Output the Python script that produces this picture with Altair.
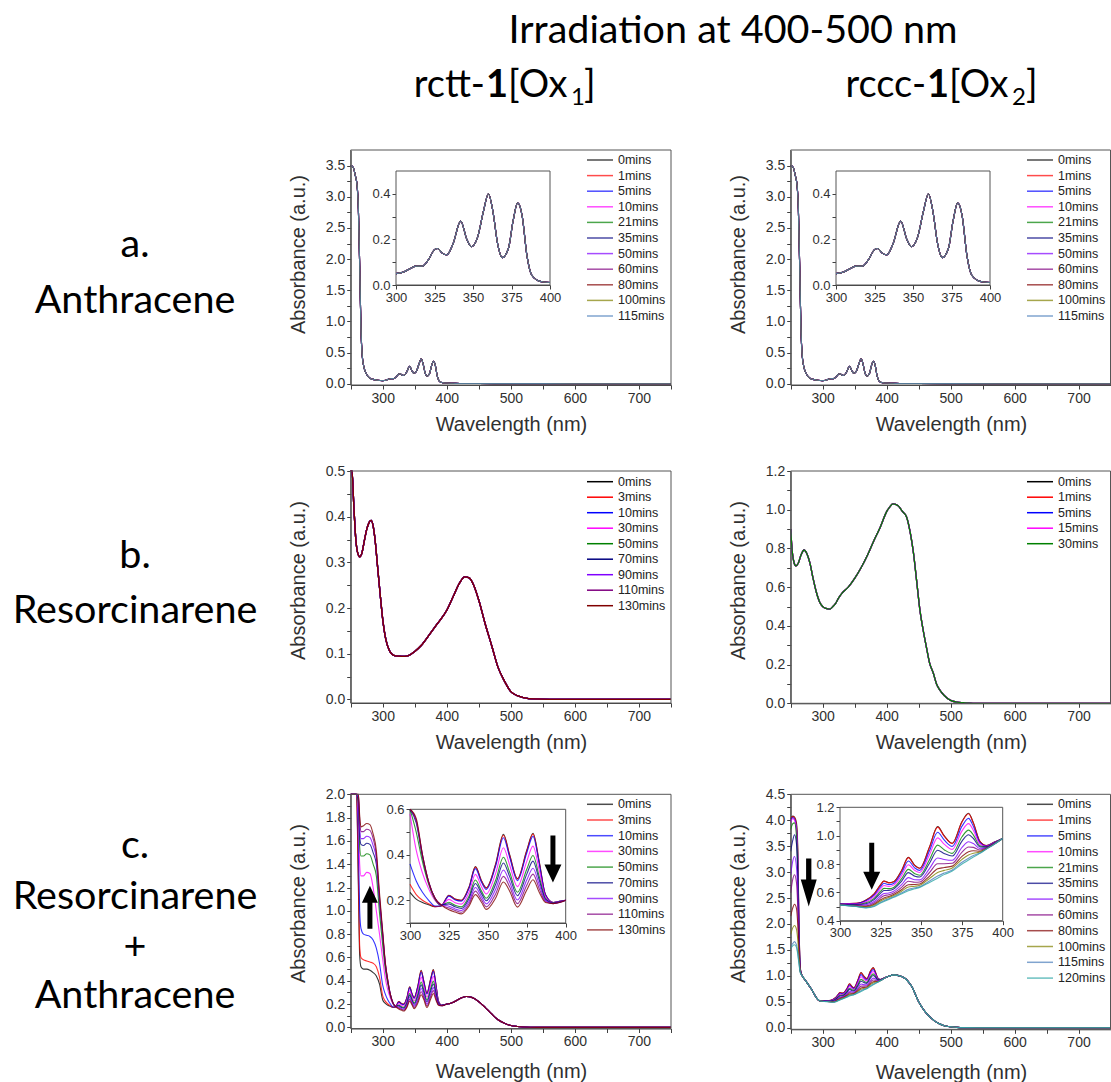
import altair as alt
import pandas as pd

W, H = 1111, 1082
AX_FONT = "Liberation Sans"
BIG_FONT = "Lato"
BIG = 39.5
HEAD = 38

BLACK, RED, BLUE, MAGENTA = "#000000", "#ff0000", "#0000ff", "#ff00ff"
GREEN, NAVY, VIOLET, PURPLE = "#008000", "#000080", "#8000ff", "#800080"
WINE, OLIVE, STEEL, TEAL = "#800000", "#808000", "#4a7ebb", "#2ca5a5"

# ---------------- data: row a (anthracene, all traces coincide) ----------------
A_WL = [250, 254, 257, 260, 262, 264, 266, 268, 271, 275, 280, 285, 292, 300, 305, 310, 313, 317, 321, 325,
        327, 330, 333, 337, 342, 346, 349, 353, 357, 360, 363, 366, 369, 373, 376, 379, 382, 385, 388, 392,
        396, 400, 410, 420, 450, 500, 600, 750]
A_ABS = [3.50, 3.47, 3.35, 3.18, 2.80, 1.90, 0.90, 0.45, 0.25, 0.15, 0.09, 0.07, 0.055, 0.05, 0.057, 0.075, 0.083, 0.083, 0.11, 0.155,
         0.16, 0.14, 0.132, 0.18, 0.28, 0.20, 0.168, 0.21, 0.33, 0.40, 0.32, 0.18, 0.12, 0.16, 0.28, 0.36, 0.30, 0.13, 0.045, 0.02,
         0.013, 0.011, 0.008, 0.005, 0.003, 0.002, 0.001, 0.0]
A_LABELS = ["0mins", "1mins", "5mins", "10mins", "21mins", "35mins", "50mins", "60mins", "80mins", "100mins", "115mins"]
A_COLORS = [BLACK, RED, BLUE, MAGENTA, GREEN, NAVY, VIOLET, PURPLE, WINE, OLIVE, STEEL]

# ---------------- row b: resorcinarene ----------------
B1_WL = [250, 252, 255, 258, 261, 264, 267, 271, 275, 279, 282, 285, 288, 292, 296, 300, 305, 310, 315, 320,
         330, 340, 350, 360, 372, 385, 400, 410, 420, 428, 435, 442, 450, 460, 470, 480, 490, 500, 510, 520,
         535, 560, 750]
B1_ABS = [0.56, 0.50, 0.42, 0.35, 0.32, 0.312, 0.318, 0.345, 0.372, 0.388, 0.392, 0.38, 0.35, 0.29, 0.23, 0.175, 0.13, 0.108, 0.098, 0.095,
          0.094, 0.096, 0.105, 0.118, 0.14, 0.165, 0.195, 0.225, 0.255, 0.268, 0.266, 0.25, 0.217, 0.165, 0.118, 0.07, 0.04, 0.017, 0.008, 0.004,
          0.001, 0.0, 0.0]
B1_LABELS = ["0mins", "3mins", "10mins", "30mins", "50mins", "70mins", "90mins", "110mins", "130mins"]
B1_COLORS = [BLACK, RED, BLUE, MAGENTA, GREEN, NAVY, VIOLET, PURPLE, WINE]

B2_WL = [250, 252, 255, 258, 262, 266, 271, 275, 280, 285, 290, 295, 300, 305, 311, 316, 320, 325, 330, 340,
         350, 360, 370, 380, 390, 400, 405, 410, 418, 425, 431, 437, 442, 447, 452, 457, 462, 467, 473, 478,
         483, 490, 500, 510, 520, 535, 750]
B2_ABS = [0.90, 0.80, 0.73, 0.71, 0.725, 0.765, 0.792, 0.775, 0.725, 0.645, 0.575, 0.525, 0.50, 0.49, 0.486, 0.50, 0.515, 0.545, 0.568, 0.60,
          0.645, 0.70, 0.765, 0.84, 0.91, 0.99, 1.015, 1.03, 1.02, 0.99, 0.964, 0.88, 0.775, 0.63, 0.482, 0.38, 0.293, 0.21, 0.155, 0.10,
          0.069, 0.04, 0.015, 0.006, 0.003, 0.0, 0.0]
B2_LABELS = ["0mins", "1mins", "5mins", "15mins", "30mins"]
B2_COLORS = [BLACK, RED, BLUE, MAGENTA, GREEN]

# ---------------- row c left: resorcinarene + anthracene (rctt) ----------------
CL_LABELS = B1_LABELS
CL_COLORS = B1_COLORS
CL_UV_WL = [250, 255, 259, 262, 264, 266, 270, 275, 280, 285, 290, 295, 300, 304, 308, 312, 316, 320]
CL_UV = {
    "0mins":   [2.6, 2.5, 2.2, 1.20, 0.62, 0.52, 0.50, 0.50, 0.49, 0.47, 0.44, 0.37, 0.235, 0.205, 0.19, 0.18, 0.172, 0.175],
    "3mins":   [2.6, 2.5, 2.2, 1.30, 0.70, 0.60, 0.58, 0.57, 0.56, 0.55, 0.52, 0.43, 0.27, 0.225, 0.20, 0.185, 0.172, 0.175],
    "10mins":  [2.6, 2.5, 2.3, 1.60, 1.00, 0.85, 0.80, 0.79, 0.78, 0.75, 0.68, 0.55, 0.36, 0.285, 0.235, 0.20, 0.175, 0.175],
    "30mins":  [2.6, 2.5, 2.3, 1.80, 1.40, 1.30, 1.30, 1.33, 1.32, 1.20, 1.00, 0.80, 0.58, 0.42, 0.32, 0.25, 0.20, 0.178],
    "50mins":  [2.6, 2.5, 2.3, 1.90, 1.55, 1.47, 1.47, 1.49, 1.48, 1.40, 1.30, 0.98, 0.70, 0.50, 0.37, 0.27, 0.205, 0.178],
    "70mins":  [2.6, 2.5, 2.3, 1.95, 1.65, 1.57, 1.56, 1.58, 1.57, 1.50, 1.40, 1.08, 0.78, 0.54, 0.39, 0.28, 0.21, 0.18],
    "90mins":  [2.6, 2.5, 2.3, 1.98, 1.72, 1.62, 1.62, 1.64, 1.63, 1.56, 1.45, 1.10, 0.80, 0.55, 0.40, 0.28, 0.21, 0.18],
    "110mins": [2.6, 2.5, 2.3, 2.00, 1.78, 1.68, 1.68, 1.70, 1.69, 1.62, 1.48, 1.12, 0.80, 0.55, 0.40, 0.28, 0.21, 0.18],
    "130mins": [2.6, 2.5, 2.3, 2.05, 1.82, 1.72, 1.73, 1.75, 1.74, 1.66, 1.52, 1.15, 0.82, 0.56, 0.40, 0.28, 0.21, 0.18],
}
CL_ANT_WL = [325, 329, 333, 338, 342, 346, 349, 355, 360, 364, 369, 375, 379, 383, 387, 392, 396, 400]
CL_ANT = {
    "0mins":   [0.222, 0.205, 0.200, 0.260, 0.348, 0.285, 0.255, 0.360, 0.490, 0.400, 0.295, 0.420, 0.495, 0.370, 0.225, 0.190, 0.195, 0.200],
    "3mins":   [0.221, 0.204, 0.199, 0.258, 0.346, 0.283, 0.253, 0.357, 0.486, 0.397, 0.293, 0.417, 0.491, 0.367, 0.224, 0.190, 0.195, 0.200],
    "10mins":  [0.218, 0.201, 0.196, 0.254, 0.339, 0.278, 0.248, 0.350, 0.475, 0.389, 0.286, 0.408, 0.481, 0.361, 0.223, 0.190, 0.195, 0.200],
    "30mins":  [0.204, 0.189, 0.183, 0.236, 0.314, 0.258, 0.228, 0.318, 0.431, 0.355, 0.260, 0.371, 0.438, 0.332, 0.215, 0.189, 0.194, 0.200],
    "50mins":  [0.191, 0.178, 0.171, 0.219, 0.289, 0.239, 0.209, 0.288, 0.389, 0.323, 0.235, 0.336, 0.397, 0.305, 0.208, 0.188, 0.193, 0.200],
    "70mins":  [0.184, 0.171, 0.164, 0.209, 0.274, 0.228, 0.198, 0.270, 0.364, 0.304, 0.220, 0.315, 0.372, 0.289, 0.204, 0.187, 0.192, 0.200],
    "90mins":  [0.174, 0.162, 0.155, 0.196, 0.256, 0.214, 0.184, 0.248, 0.333, 0.280, 0.201, 0.289, 0.341, 0.269, 0.199, 0.186, 0.191, 0.200],
    "110mins": [0.166, 0.155, 0.147, 0.185, 0.240, 0.201, 0.171, 0.228, 0.305, 0.259, 0.185, 0.266, 0.315, 0.251, 0.194, 0.185, 0.190, 0.200],
    "130mins": [0.158, 0.148, 0.140, 0.175, 0.225, 0.190, 0.160, 0.210, 0.280, 0.240, 0.170, 0.245, 0.290, 0.235, 0.190, 0.185, 0.190, 0.200],
}
CL_TAIL_WL = [405, 410, 420, 430, 440, 450, 460, 470, 480, 490, 500, 510, 520, 540, 750]
CL_TAIL = [0.205, 0.215, 0.245, 0.265, 0.255, 0.22, 0.17, 0.115, 0.065, 0.035, 0.015, 0.007, 0.003, 0.0, 0.0]

# ---------------- row c right: resorcinarene + anthracene (rccc) ----------------
CR_LABELS = ["0mins", "1mins", "5mins", "10mins", "21mins", "35mins", "50mins", "60mins", "80mins", "100mins", "115mins", "120mins"]
CR_COLORS = [BLACK, RED, BLUE, MAGENTA, GREEN, NAVY, VIOLET, PURPLE, WINE, OLIVE, STEEL, TEAL]
CR_UV_WL = [250, 253, 256, 259, 261, 263, 265]
CR_UV = {
    "0mins":   [4.02, 4.08, 4.06, 3.95, 3.50, 2.00, 1.15],
    "1mins":   [4.02, 4.07, 4.05, 3.90, 3.40, 1.95, 1.14],
    "5mins":   [3.98, 4.05, 4.02, 3.85, 3.30, 1.90, 1.13],
    "10mins":  [3.96, 4.03, 4.00, 3.80, 3.20, 1.85, 1.12],
    "21mins":  [3.82, 3.93, 3.95, 3.70, 3.10, 1.80, 1.12],
    "35mins":  [3.40, 3.60, 3.72, 3.55, 2.90, 1.70, 1.10],
    "50mins":  [2.95, 3.20, 3.30, 3.10, 2.60, 1.60, 1.10],
    "60mins":  [2.60, 2.85, 2.95, 2.80, 2.35, 1.55, 1.10],
    "80mins":  [2.15, 2.30, 2.38, 2.30, 2.00, 1.45, 1.08],
    "100mins": [1.80, 1.92, 1.97, 1.90, 1.70, 1.35, 1.08],
    "115mins": [1.57, 1.62, 1.66, 1.60, 1.45, 1.25, 1.07],
    "120mins": [1.52, 1.58, 1.60, 1.55, 1.42, 1.22, 1.06],
}
CR_MID_WL = [268, 272, 276, 280, 285, 290, 295]
CR_MID = [1.0, 0.93, 0.86, 0.79, 0.69, 0.58, 0.52]
CR_ANT_WL = [300, 310, 316, 321, 325, 327, 330, 333, 338, 342, 346, 349, 355, 360, 364, 369, 375, 379, 382, 386, 390, 395, 400]
CR_ANT = {
    "0mins":   [0.520, 0.522, 0.546, 0.590, 0.655, 0.680, 0.668, 0.675, 0.758, 0.847, 0.790, 0.770, 0.920, 1.064, 1.000, 0.946, 1.100, 1.158, 1.090, 0.960, 0.930, 0.955, 0.980],
    "1mins":   [0.520, 0.522, 0.545, 0.589, 0.654, 0.679, 0.667, 0.674, 0.756, 0.845, 0.788, 0.769, 0.918, 1.060, 0.997, 0.944, 1.097, 1.155, 1.088, 0.959, 0.930, 0.955, 0.980],
    "5mins":   [0.519, 0.520, 0.540, 0.580, 0.641, 0.664, 0.655, 0.663, 0.740, 0.821, 0.772, 0.755, 0.893, 1.024, 0.970, 0.924, 1.067, 1.122, 1.064, 0.951, 0.927, 0.953, 0.980],
    "10mins":  [0.518, 0.517, 0.534, 0.570, 0.626, 0.648, 0.642, 0.651, 0.721, 0.795, 0.754, 0.740, 0.865, 0.984, 0.940, 0.903, 1.034, 1.085, 1.037, 0.941, 0.925, 0.952, 0.980],
    "21mins":  [0.516, 0.514, 0.526, 0.558, 0.608, 0.628, 0.626, 0.635, 0.698, 0.762, 0.731, 0.721, 0.830, 0.933, 0.901, 0.875, 0.992, 1.039, 1.004, 0.929, 0.921, 0.950, 0.980],
    "35mins":  [0.515, 0.512, 0.520, 0.549, 0.595, 0.613, 0.614, 0.624, 0.681, 0.739, 0.714, 0.708, 0.805, 0.897, 0.874, 0.856, 0.962, 1.006, 0.980, 0.921, 0.919, 0.948, 0.980],
    "50mins":  [0.514, 0.509, 0.512, 0.535, 0.576, 0.592, 0.596, 0.608, 0.656, 0.704, 0.689, 0.688, 0.768, 0.842, 0.832, 0.826, 0.917, 0.957, 0.944, 0.908, 0.915, 0.946, 0.980],
    "60mins":  [0.513, 0.506, 0.506, 0.525, 0.561, 0.576, 0.583, 0.596, 0.637, 0.678, 0.671, 0.673, 0.740, 0.802, 0.802, 0.805, 0.884, 0.920, 0.917, 0.899, 0.912, 0.944, 0.980],
    "80mins":  [0.512, 0.504, 0.500, 0.516, 0.548, 0.561, 0.571, 0.585, 0.620, 0.654, 0.655, 0.659, 0.715, 0.766, 0.775, 0.785, 0.854, 0.887, 0.893, 0.890, 0.910, 0.943, 0.980],
    "100mins": [0.511, 0.502, 0.496, 0.510, 0.539, 0.551, 0.563, 0.577, 0.609, 0.638, 0.643, 0.650, 0.698, 0.740, 0.755, 0.772, 0.833, 0.864, 0.876, 0.884, 0.908, 0.942, 0.980],
    "115mins": [0.510, 0.501, 0.492, 0.504, 0.530, 0.541, 0.555, 0.569, 0.597, 0.621, 0.632, 0.640, 0.680, 0.715, 0.736, 0.758, 0.812, 0.841, 0.860, 0.878, 0.906, 0.941, 0.980],
    "120mins": [0.510, 0.500, 0.490, 0.500, 0.525, 0.535, 0.550, 0.565, 0.590, 0.612, 0.625, 0.635, 0.670, 0.700, 0.725, 0.750, 0.800, 0.828, 0.850, 0.875, 0.905, 0.940, 0.980],
}
CR_TAIL_WL = [405, 410, 415, 420, 425, 430, 435, 440, 445, 450, 455, 460, 470, 480, 490, 500, 510, 520, 540, 750]
CR_TAIL = [1.0, 1.02, 1.015, 1.0, 0.98, 0.94, 0.87, 0.78, 0.64, 0.50, 0.40, 0.31, 0.18, 0.09, 0.04, 0.018, 0.008, 0.003, 0.0, 0.0]

# arrow anchors (wavelength, absorbance)
ARROW_CL_MAIN = (280.0, 1.03)
ARROW_CL_INSET = (391.8, 0.381)
ARROW_CR_MAIN = (278.2, 2.80)
ARROW_CR_INSET = (319.5, 0.784)

ARROW_UP = "M0,-1L0.372,-0.209L0.116,-0.209L0.116,1L-0.116,1L-0.116,-0.209L-0.372,-0.209Z"
ARROW_DOWN = "M0,1L0.362,0.234L0.106,0.234L0.106,-1L-0.106,-1L-0.106,0.234L-0.362,0.234Z"
ARROW_DOWN_BIG = "M0,1L0.333,-0.125L0.11,-0.125L0.11,-1L-0.11,-1L-0.11,-0.125L-0.333,-0.125Z"


# ---------------- helpers ----------------
def long_df(labels, pieces, lo=None, hi=None):
    rows = []
    for k, lab in enumerate(labels):
        for wl, vals in pieces:
            v = vals[lab] if isinstance(vals, dict) else vals
            for w, a in zip(wl, v):
                if lo is not None and (w < lo or w > hi):
                    continue
                rows.append({"wl": w, "a": a, "s": lab, "k": k})
    return pd.DataFrame(rows)


def make_axis(orient, pos, values, major, fmt, lsize, title=None, tx=None, ty=None):
    test = f"abs(datum.value/{major} - round(datum.value/{major})) < 1e-6"
    kw = dict(
        orient=orient,
        offset=(pos - H) if orient == "bottom" else -pos,
        values=values,
        labelExpr=f"{test} ? format(datum.value, '{fmt}') : ''",
        grid=False, labelOverlap=False, labelFlush=False,
        domainColor="#404040", tickColor="#404040", domainWidth=1, tickWidth=1, tickSize=4,
        labelColor="#303030", labelFont=AX_FONT, labelFontSize=lsize, labelPadding=2,
    )
    if title:
        kw.update(title=title, titleFont=AX_FONT, titleFontSize=20, titleFontWeight="normal",
                  titleColor="#303030", titleX=tx, titleY=ty, titleAlign="center", titleBaseline="middle")
        if orient == "left":
            kw["titleAngle"] = 270
    else:
        kw["title"] = None
    return alt.Axis(**kw)


def steps(lo, hi, step):
    n = int(round((hi - lo) / step))
    return [round(lo + i * step, 4) for i in range(n + 1)]


def panel(df, labels, colors, xdom, xr, ydom, yr, axx, axy, sw, op, inset=False, arrows=()):
    xs = alt.Scale(domain=xdom, range=xr, nice=False, zero=False, clamp=True)
    ys = alt.Scale(domain=ydom, range=yr, nice=False, zero=False, clamp=True)
    box = pd.DataFrame({"x0": [xdom[0]], "x1": [xdom[1]], "y0": [ydom[0]], "y1": [ydom[1]]})
    enc_box = dict(x=alt.X("x0:Q", scale=xs, axis=axx), x2="x1:Q",
                   y=alt.Y("y0:Q", scale=ys, axis=axy), y2="y1:Q")
    layers = []
    if inset:
        layers.append(alt.Chart(box).mark_rect(fill="white", stroke="#555555", strokeWidth=1).encode(**enc_box))
    layers.append(
        alt.Chart(df).mark_line(interpolate="monotone", strokeWidth=sw, opacity=op).encode(
            x=alt.X("wl:Q", scale=xs, axis=axx),
            y=alt.Y("a:Q", scale=ys, axis=axy),
            color=alt.Color("s:N", scale=alt.Scale(domain=labels, range=colors), legend=None),
        )
    )
    if not inset:
        layers.append(alt.Chart(box).mark_rect(filled=False, stroke="#555555", strokeWidth=1).encode(**enc_box))
    for (wx, ay), path, size in arrows:
        adf = pd.DataFrame({"x": [wx], "y": [ay]})
        layers.append(
            alt.Chart(adf).mark_point(shape=path, size=size, filled=True, color="black",
                                      opacity=1, strokeWidth=0).encode(
                x=alt.X("x:Q", scale=xs, axis=axx), y=alt.Y("y:Q", scale=ys, axis=axy))
        )
    return alt.layer(*layers)


def legend(labels, colors, xl, y0, dy, op, sw=1.5):
    n = len(labels)
    df = pd.DataFrame({"s": labels, "i": list(range(n))})
    ys = alt.Scale(domain=[0, n - 1], range=[y0, y0 + dy * (n - 1)], nice=False, zero=False)
    y = alt.Y("i:Q", scale=ys, axis=None)
    col = alt.Color("s:N", scale=alt.Scale(domain=labels, range=colors), legend=None)
    rule = alt.Chart(df).mark_rule(strokeWidth=sw, opacity=op).encode(
        x=alt.value(xl), x2=alt.value(xl + 26), y=y, color=col)
    txt = alt.Chart(df).mark_text(align="left", baseline="middle", font=AX_FONT, fontSize=12.5,
                                  color="#222222").encode(x=alt.value(xl + 31), y=y, text="s:N")
    return alt.layer(rule, txt)


def label(txt, x, y, size=BIG, weight="normal", align="center"):
    return alt.Chart(pd.DataFrame({"t": [txt]})).mark_text(
        align=align, baseline="alphabetic", font=BIG_FONT, fontSize=size, fontWeight=weight,
        color="black").encode(x=alt.value(x), y=alt.value(y), text="t:N")


# ---------------- geometry ----------------
XL = [350.7, 671.0]
XR = [790.7, 1110.5]
XDOM = [250, 750]
XVALS = steps(250, 750, 50)

layers = []

# titles
layers += [
    label("Irradiation at 400-500 nm", 733, 43),
    label("rctt-", 485, 97, size=HEAD, align="right"),
    label("1", 486, 97, size=HEAD, weight="bold", align="left"),
    label("[Ox", 508, 97, size=HEAD, align="left"),
    label("1", 571, 105, size=24, align="left"),
    label("]", 584, 97, size=HEAD, align="left"),
    label("rccc-", 926, 97, size=HEAD, align="right"),
    label("1", 927, 97, size=HEAD, weight="bold", align="left"),
    label("[Ox", 949, 97, size=HEAD, align="left"),
    label("2", 1012, 105, size=24, align="left"),
    label("]", 1026, 97, size=HEAD, align="left"),
    label("a.", 135, 257), label("Anthracene", 135, 313),
    label("b.", 135, 568), label("Resorcinarene", 135, 623),
    label("c.", 135, 858), label("Resorcinarene", 135, 909),
    label("+", 135, 959), label("Anthracene", 135, 1008),
]

# ---- row a ----
df_a = long_df(A_LABELS, [(A_WL, A_ABS)])
df_a_in = long_df(A_LABELS, [(A_WL, A_ABS)], 300, 400)
for xr, tx in [(XL, 511), (XR, 951)]:
    axx = make_axis("bottom", 385, XVALS, 100, ".0f", 14, "Wavelength (nm)", tx, 39)
    axy = make_axis("left", xr[0], steps(0, 3.5, 0.25), 0.5, ".1f", 14, "Absorbance (a.u.)", -52.7, 254)
    layers.append(panel(df_a, A_LABELS, A_COLORS, XDOM, xr, [-0.02, 3.75], [385, 150], axx, axy, 1.1, 0.8))
for x0 in [396, 836]:
    axx = make_axis("bottom", 285, steps(300, 400, 25), 25, ".0f", 13)
    axy = make_axis("left", x0, steps(0, 0.4, 0.1), 0.2, ".1f", 13)
    layers.append(panel(df_a_in, A_LABELS, A_COLORS, [300, 400], [x0, x0 + 154], [0, 0.5], [285, 171],
                        axx, axy, 1.1, 0.8, inset=True))
layers.append(legend(A_LABELS, A_COLORS, 587, 160, 15.6, 0.7))
layers.append(legend(A_LABELS, A_COLORS, 1027, 160, 15.6, 0.7))

# ---- row b ----
df_b1 = long_df(B1_LABELS, [(B1_WL, B1_ABS)])
axx = make_axis("bottom", 703, XVALS, 100, ".0f", 14, "Wavelength (nm)", 511, 39)
axy = make_axis("left", XL[0], steps(0, 0.5, 0.05), 0.1, ".1f", 14, "Absorbance (a.u.)", -52.7, 580)
layers.append(panel(df_b1, B1_LABELS, B1_COLORS, XDOM, XL, [-0.008, 0.5], [703, 471], axx, axy, 1.3, 1.0))
layers.append(legend(B1_LABELS, B1_COLORS, 587, 481.7, 15.5, 1.0))

df_b2 = long_df(B2_LABELS, [(B2_WL, B2_ABS)])
axx = make_axis("bottom", 703.3, XVALS, 100, ".0f", 14, "Wavelength (nm)", 951, 39)
axy = make_axis("left", XR[0], steps(0, 1.2, 0.1), 0.2, ".1f", 14, "Absorbance (a.u.)", -52.7, 580)
layers.append(panel(df_b2, B2_LABELS, B2_COLORS, XDOM, XR, [0, 1.2], [703.3, 471], axx, axy, 1.3, 1.0))
layers.append(legend(B2_LABELS, B2_COLORS, 1027, 481.7, 15.5, 1.0))

# ---- row c left ----
cl_pieces = [(CL_UV_WL, CL_UV), (CL_ANT_WL, CL_ANT), (CL_TAIL_WL, CL_TAIL)]
df_cl = long_df(CL_LABELS, cl_pieces)
df_cl_in = long_df(CL_LABELS, cl_pieces, 300, 400)
axx = make_axis("bottom", 1028.5, XVALS, 100, ".0f", 14, "Wavelength (nm)", 511, 43)
axy = make_axis("left", XL[0], steps(0, 2.0, 0.1), 0.2, ".1f", 14, "Absorbance (a.u.)", -52.7, 903)
layers.append(panel(df_cl, CL_LABELS, CL_COLORS, XDOM, XL, [-0.01, 2.0], [1028.5, 794.3], axx, axy, 1.1, 0.8,
                    arrows=[(ARROW_CL_MAIN, ARROW_UP, 1849)]))
axx = make_axis("bottom", 923, steps(300, 400, 25), 25, ".0f", 13)
axy = make_axis("left", 410, steps(0.1, 0.6, 0.1), 0.2, ".1f", 13)
layers.append(panel(df_cl_in, CL_LABELS, CL_COLORS, [300, 400], [410, 565.7], [0.1, 0.6], [923, 809.3],
                    axx, axy, 1.1, 0.8, inset=True, arrows=[(ARROW_CL_INSET, ARROW_DOWN, 2209)]))
layers.append(legend(CL_LABELS, CL_COLORS, 587, 804.3, 15.7, 0.7))

# ---- row c right ----
cr_pieces = [(CR_UV_WL, CR_UV), (CR_MID_WL, CR_MID), (CR_ANT_WL, CR_ANT), (CR_TAIL_WL, CR_TAIL)]
df_cr = long_df(CR_LABELS, cr_pieces)
df_cr_in = long_df(CR_LABELS, cr_pieces, 300, 400)
axx = make_axis("bottom", 1029.3, XVALS, 100, ".0f", 14, "Wavelength (nm)", 951, 43)
axy = make_axis("left", XR[0], steps(0, 4.5, 0.25), 0.5, ".1f", 14, "Absorbance (a.u.)", -52.7, 903)
layers.append(panel(df_cr, CR_LABELS, CR_COLORS, XDOM, XR, [-0.03, 4.5], [1029.3, 794.3], axx, axy, 1.1, 0.8,
                    arrows=[(ARROW_CR_MAIN, ARROW_DOWN_BIG, 2304)]))
axx = make_axis("bottom", 920.7, steps(300, 400, 25), 25, ".0f", 13)
axy = make_axis("left", 840, steps(0.4, 1.2, 0.1), 0.2, ".1f", 13)
layers.append(panel(df_cr_in, CR_LABELS, CR_COLORS, [300, 400], [840, 1002.7], [0.4, 1.2], [920.7, 807.3],
                    axx, axy, 1.1, 0.8, inset=True, arrows=[(ARROW_CR_INSET, ARROW_DOWN, 2209)]))
layers.append(legend(CR_LABELS, CR_COLORS, 1027, 804.3, 15.8, 0.7))

chart = alt.layer(*layers).resolve_scale(
    x="independent", y="independent", color="independent"
).properties(
    width=W, height=H, padding=0, autosize=alt.AutoSizeParams(type="none")
).configure(background="white").configure_view(stroke=None)

chart.save("out.html", embed_options={"renderer": "svg", "actions": False})
